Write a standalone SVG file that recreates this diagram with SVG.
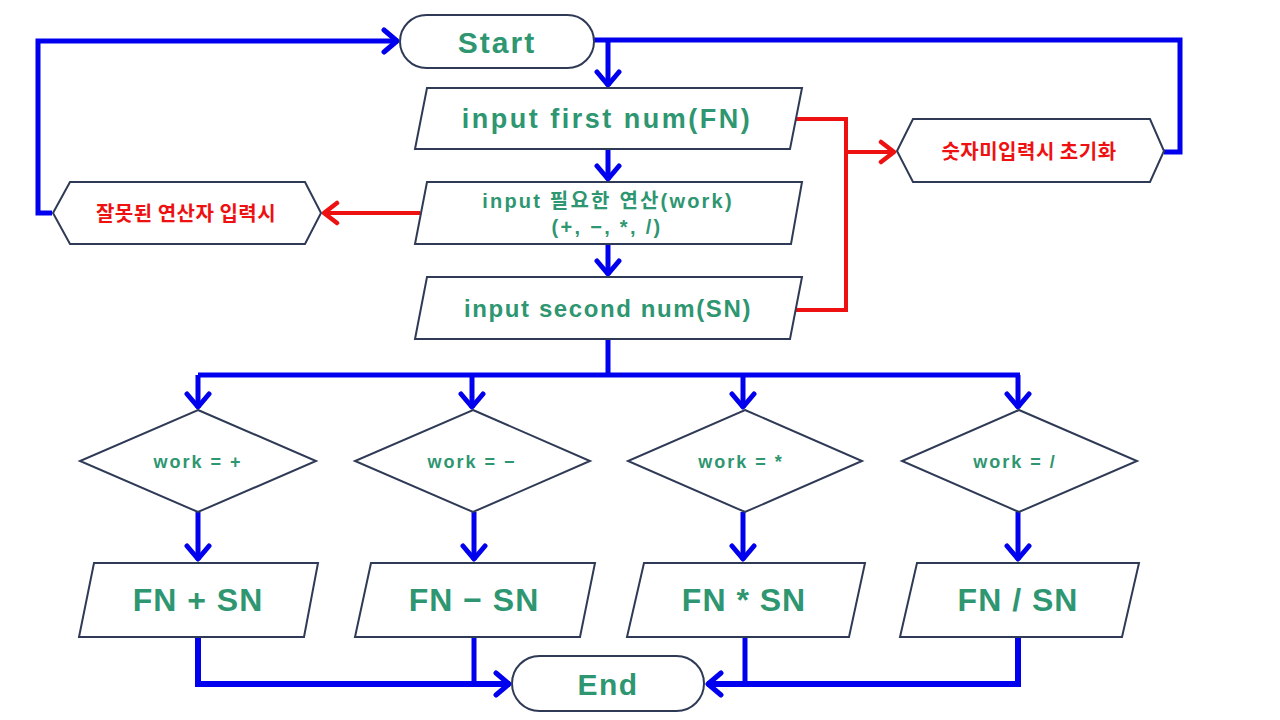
<svg xmlns="http://www.w3.org/2000/svg" width="1280" height="720" viewBox="0 0 1280 720">
<style>
.node{fill:#fff;stroke:#2f3a56;stroke-width:2}
.t{font-family:"Liberation Sans","Noto Sans CJK KR",sans-serif;font-weight:bold;fill:#2e9670;text-anchor:middle;dominant-baseline:central}
.k{font-family:"Noto Sans CJK KR",sans-serif;font-weight:bold;fill:#ee1111;text-anchor:middle;dominant-baseline:central;font-size:20px;letter-spacing:0.5px}
.b{fill:none;stroke:#0000ee;stroke-width:5}
.r{fill:none;stroke:#ee1111;stroke-width:4}
.dt{font-size:18px;letter-spacing:2px}
.pt{font-size:32px;letter-spacing:1px}
</style>
<defs>
<marker id="ab" viewBox="0 0 20 28" refX="17" refY="14" markerWidth="20" markerHeight="28" markerUnits="userSpaceOnUse" orient="auto">
<path d="M3,3 L16,14 L3,25" fill="none" stroke="#0000ee" stroke-width="5" stroke-linecap="round" stroke-linejoin="round"/>
</marker>
<marker id="ar" viewBox="0 0 20 28" refX="17" refY="14" markerWidth="20" markerHeight="28" markerUnits="userSpaceOnUse" orient="auto">
<path d="M3,4 L16,14 L3,24" fill="none" stroke="#ee1111" stroke-width="4.5" stroke-linecap="round" stroke-linejoin="round"/>
</marker>
</defs>
<rect width="1280" height="720" fill="#fff"/>
<g id="connectors">
<path class="b" d="M594,40 L1180,40 L1180,152 L1164,152"/>
<path class="b" d="M608,40 L608,86" marker-end="url(#ab)"/>
<path class="b" d="M52,213 L38,213 L38,41 L398,41" marker-end="url(#ab)"/>
<path class="b" d="M608,149 L608,180" marker-end="url(#ab)"/>
<path class="b" d="M608,244 L608,275" marker-end="url(#ab)"/>
<path class="b" d="M608,339 L608,375"/>
<path class="b" d="M198,375 L1020,375"/>
<path class="b" d="M198,375 L198,408" marker-end="url(#ab)"/>
<path class="b" d="M472,375 L472,408" marker-end="url(#ab)"/>
<path class="b" d="M743,375 L743,408" marker-end="url(#ab)"/>
<path class="b" d="M1018,375 L1018,408" marker-end="url(#ab)"/>
<path class="b" d="M198,512 L198,560" marker-end="url(#ab)"/>
<path class="b" d="M474,512 L474,560" marker-end="url(#ab)"/>
<path class="b" d="M743,512 L743,560" marker-end="url(#ab)"/>
<path class="b" d="M1018,512 L1018,560" marker-end="url(#ab)"/>
<path class="b" style="stroke-width:6" d="M198,637 L198,684 L510,684" marker-end="url(#ab)"/>
<path class="b" d="M474,637 L474,684"/>
<path class="b" d="M745,637 L745,684"/>
<path class="b" style="stroke-width:6" d="M1018,637 L1018,684 L707,684" marker-end="url(#ab)"/>
<path class="r" d="M794,119 L846,119 L846,310 L795,310"/>
<path class="r" d="M846,152 L895,152" marker-end="url(#ar)"/>
<path class="r" d="M420,213 L323,213" marker-end="url(#ar)"/>
</g>
<g id="start">
<rect class="node" x="400" y="15" width="194" height="53" rx="26.5"/>
<text class="t" x="497" y="42" font-size="30" letter-spacing="2">Start</text>
</g>
<g id="input-fn">
<polygon class="node" points="427,88 802,88 790,149 415,149"/>
<text class="t" x="607" y="119" font-size="27" letter-spacing="2.5">input first num(FN)</text>
</g>
<g id="input-work">
<polygon class="node" points="427,182 802,182 791,244 415,244"/>
<text class="t" x="608" y="201" font-size="20" letter-spacing="2.2">input 필요한 연산(work)</text>
<text class="t" x="607" y="227" font-size="20" letter-spacing="2.3">(+, −, *, /)</text>
</g>
<g id="input-sn">
<polygon class="node" points="427,277 802,277 790,339 415,339"/>
<text class="t" x="608" y="308" font-size="24" letter-spacing="1.6">input second num(SN)</text>
</g>
<g id="err-op">
<polygon class="node" points="53,213 70,182 305,182 321,213 305,244 70,244"/>
<text class="k" x="186" y="212">잘못된 연산자 입력시</text>
</g>
<g id="err-num">
<polygon class="node" points="897,151 913,119 1150,119 1164,151 1150,182 913,182"/>
<text class="k" x="1029" y="150">숫자미입력시 초기화</text>
</g>
<g id="d-plus">
<polygon class="node" points="198,410 316,461 198,512 80,461"/>
<text class="t dt" x="198" y="462">work = +</text>
</g>
<g id="d-minus">
<polygon class="node" points="473,410 590,461 473,512 355,461"/>
<text class="t dt" x="472" y="462">work = −</text>
</g>
<g id="d-mul">
<polygon class="node" points="745,410 862,461 745,512 628,461"/>
<text class="t dt" x="741" y="462">work = *</text>
</g>
<g id="d-div">
<polygon class="node" points="1019,410 1137,461 1019,512 902,461"/>
<text class="t dt" x="1015" y="462">work = /</text>
</g>
<g id="p-plus">
<polygon class="node" points="94,563 318,563 304,637 79,637"/>
<text class="t pt" x="198" y="600">FN + SN</text>
</g>
<g id="p-minus">
<polygon class="node" points="371,563 595,563 580,637 355,637"/>
<text class="t pt" x="474" y="600">FN − SN</text>
</g>
<g id="p-mul">
<polygon class="node" points="644,563 865,563 849,637 627,637"/>
<text class="t pt" x="744" y="600">FN * SN</text>
</g>
<g id="p-div">
<polygon class="node" points="917,563 1139,563 1122,637 900,637"/>
<text class="t pt" x="1018" y="600">FN / SN</text>
</g>
<g id="end">
<rect class="node" x="512" y="656" width="192" height="55" rx="27.5"/>
<text class="t" x="608" y="684" font-size="30" letter-spacing="1.5">End</text>
</g>
</svg>
